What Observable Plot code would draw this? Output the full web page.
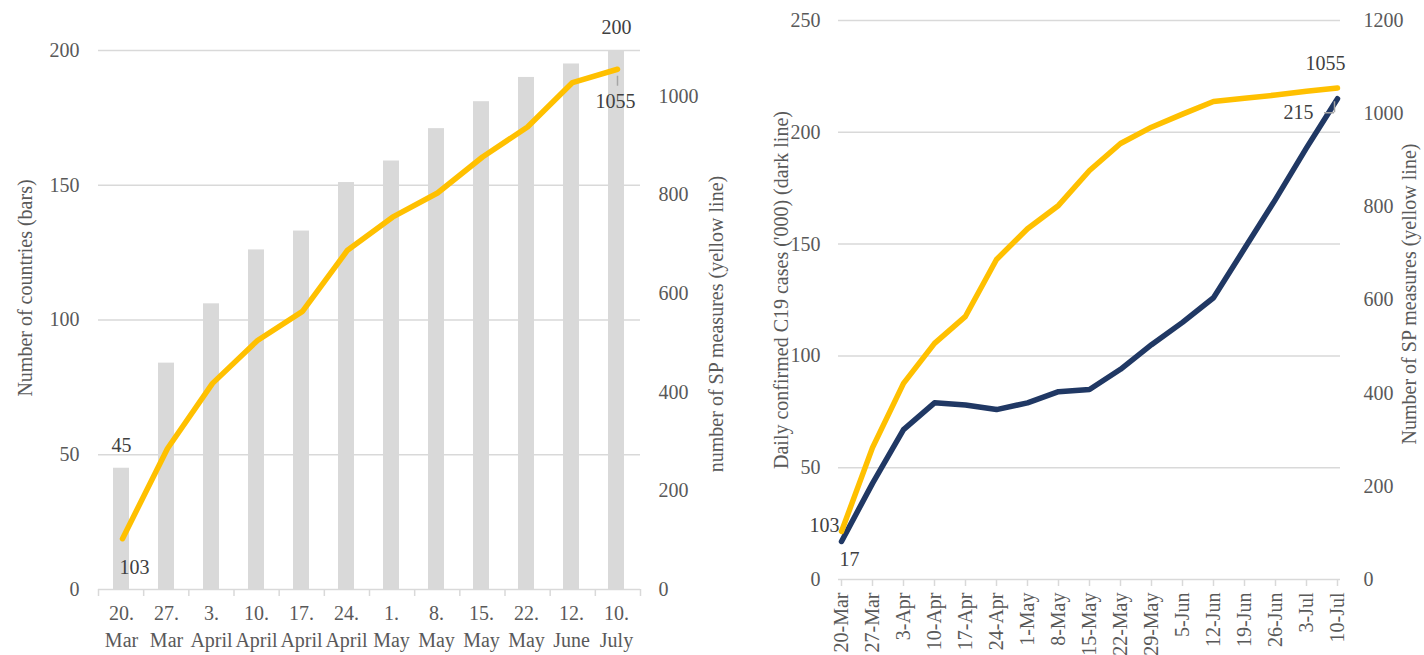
<!DOCTYPE html>
<html><head><meta charset="utf-8">
<script src="https://cdn.jsdelivr.net/npm/d3@7"></script>
<script src="https://cdn.jsdelivr.net/npm/@observablehq/plot@0.6"></script>
<style>
body{margin:0;background:#fff}
#wrap{position:relative;width:1424px;height:655px;overflow:hidden;background:#fff}
#wrap svg{position:absolute;top:0;overflow:visible}
#wrap svg text{font-family:"Liberation Serif","Times New Roman",serif}
</style></head><body><div id="wrap"></div>
<script>
// ---- Left panel data ----
const weeksL = ["20.\nMar","27.\nMar","3.\nApril","10.\nApril","17.\nApril","24.\nApril","1.\nMay","8.\nMay","15.\nMay","22.\nMay","12.\nJune","10.\nJuly"];
const countries = [45,84,106,126,133,151,159,171,181,190,195,200];
const spLeft = [103,286,418,505,564,688,755,804,877,938,1028,1055];
const countryTicks = [0,50,100,150,200];
const spTicksL = [0,200,400,600,800,1000];
const boundsL = [0,1,2,3,4,5,6,7,8,9,10,11,12];
// ---- Right panel data ----
const datesR = ["20-Mar","27-Mar","3-Apr","10-Apr","17-Apr","24-Apr","1-May","8-May","15-May","22-May","29-May","5-Jun","12-Jun","19-Jun","26-Jun","3-Jul","10-Jul"];
const cases = [17,43,67,79,78,76,79,84,85,94,105,115,126,148,170,193,215];
const spRight = [103,283,421,507,565,687,753,803,878,936,971,999,1026,1033,1040,1048,1055];
const casesTicks = [0,50,100,150,200,250];
const spTicksR = [0,200,400,600,800,1000,1200];

const leftData = weeksL.map((w,i)=>({week:w, countries:countries[i], sp:spLeft[i]}));
const rightData = datesR.map((d,i)=>({date:d, cases:cases[i], sp:spRight[i]}));

const FONT = '"Liberation Serif","Times New Roman",serif';
const GRID = "#d9d9d9", TXT = "#595959", LBL = "#404040", YEL = "#FFC000", DARK = "#203864", LEAD = "#a6a6a6";
const FS = 20;
const style = {fontFamily: FONT, fontSize: FS + "px", color: TXT, background: "transparent", overflow: "visible"};
const T = {fontFamily: FONT, fontSize: FS};
const fmt = d => String(d);
const wrap = document.getElementById("wrap");
function add(svg, left){ svg.style.left = left + "px"; wrap.appendChild(svg); }

const L = {width: 740, height: 655, marginLeft: 98, marginRight: 100, marginTop: 50, marginBottom: 66, style};
const lastL = leftData[leftData.length-1];

// Left: bars layer
add(Plot.plot({...L,
  x: {type: "band", domain: weeksL, paddingInner: 0.64, paddingOuter: 0.32},
  y: {domain: [0, 200]},
  marks: [
    Plot.gridY(countryTicks, {stroke: GRID, strokeOpacity: 1, strokeWidth: 1.5}),
    Plot.barY(leftData, {x: "week", y: "countries", fill: GRID}),
    Plot.axisY(countryTicks, {...T, tickSize: 0, tickPadding: 19, tickFormat: fmt, label: null}),
    Plot.axisX({...T, tickSize: 0, tickPadding: 11, lineHeight: 1.35, label: null}),
    Plot.text(["Number of countries (bars)"], {...T, frameAnchor: "left", textAnchor: "middle", rotate: -90, dx: -73, dy: -32, fill: TXT}),
    Plot.text([leftData[0]], {...T, x: "week", y: "countries", text: d => String(d.countries), dy: -23, fill: LBL}),
    Plot.text([lastL], {...T, x: "week", y: "countries", text: d => String(d.countries), dy: -23, fill: LBL})
  ]
}), 0);

// Left: category boundary tick marks
add(Plot.plot({...L,
  x: {domain: [0, 12]},
  marks: [
    Plot.axisX(boundsL, {tickSize: 7, stroke: GRID, strokeWidth: 1.5, tickFormat: () => "", label: null})
  ]
}), 0);

// Left: yellow line layer (secondary axis)
add(Plot.plot({...L,
  x: {type: "point", domain: weeksL, padding: 0.5, axis: null},
  y: {domain: [0, 1093]},
  marks: [
    Plot.line(leftData, {x: "week", y: "sp", stroke: YEL, strokeWidth: 5.5, strokeLinejoin: "round", strokeLinecap: "round"}),
    Plot.ruleX([lastL], {x: "week", y1: "sp", y2: "sp", insetTop: 7, insetBottom: -17, stroke: LEAD, strokeWidth: 1.5}),
    Plot.axisY(spTicksL, {...T, anchor: "right", tickSize: 0, tickPadding: 18, tickFormat: fmt, label: null}),
    Plot.text(["number of SP measures (yellow line)"], {...T, frameAnchor: "right", textAnchor: "middle", rotate: -90, dx: 76, dy: 4, fill: TXT}),
    Plot.text([leftData[0]], {...T, x: "week", y: "sp", text: d => String(d.sp), dx: 12, dy: 29, fill: LBL}),
    Plot.text([lastL], {...T, x: "week", y: "sp", text: d => String(d.sp), dx: -2, dy: 32, fill: LBL})
  ]
}), 0);

const R = {width: 712, height: 655, marginLeft: 126, marginRight: 84, marginTop: 20, marginBottom: 76, style};
const lastR = rightData[rightData.length-1];

// Right: dark line + primary axis
add(Plot.plot({...R,
  x: {type: "point", domain: datesR, padding: 0},
  y: {domain: [0, 250]},
  marks: [
    Plot.gridY(casesTicks, {stroke: GRID, strokeOpacity: 1, strokeWidth: 1.5}),
    Plot.axisX({tickSize: 7, stroke: GRID, strokeWidth: 1.5, tickFormat: () => "", label: null}),
    Plot.axisX({...T, tickSize: 0, tickPadding: 13, tickRotate: -90, label: null}),
    Plot.axisY(casesTicks, {...T, tickSize: 0, tickPadding: 18, tickFormat: fmt, label: null}),
    Plot.line(rightData, {x: "date", y: "cases", stroke: DARK, strokeWidth: 5.5, strokeLinejoin: "round", strokeLinecap: "round"}),
    Plot.ruleY([lastR], {x1: "date", x2: "date", y: "cases", insetLeft: -13, insetRight: 3, dy: 14, stroke: LEAD, strokeWidth: 1.5}),
    Plot.ruleX([lastR], {x: "date", y1: "cases", y2: "cases", insetTop: 3, insetBottom: -14, dx: -3, stroke: LEAD, strokeWidth: 1.5}),
    Plot.text(["Daily confirmed C19 cases ('000) (dark line)"], {...T, frameAnchor: "left", textAnchor: "middle", rotate: -90, dx: -57, dy: -10, fill: TXT}),
    Plot.text([rightData[0]], {...T, x: "date", y: "cases", text: d => String(d.cases), dx: 8, dy: 18, fill: LBL}),
    Plot.text([lastR], {...T, x: "date", y: "cases", text: d => String(d.cases), textAnchor: "end", dx: -24, dy: 14, fill: LBL})
  ]
}), 712);

// Right: yellow line + secondary axis
add(Plot.plot({...R,
  x: {type: "point", domain: datesR, padding: 0, axis: null},
  y: {domain: [0, 1200]},
  marks: [
    Plot.line(rightData, {x: "date", y: "sp", stroke: YEL, strokeWidth: 5.5, strokeLinejoin: "round", strokeLinecap: "round"}),
    Plot.axisY(spTicksR, {...T, anchor: "right", tickSize: 0, tickPadding: 23, tickFormat: fmt, label: null}),
    Plot.text(["Number of SP measures (yellow line)"], {...T, frameAnchor: "right", textAnchor: "middle", rotate: -90, dx: 69, dy: -6, fill: TXT}),
    Plot.text([rightData[0]], {...T, x: "date", y: "sp", text: d => String(d.sp), textAnchor: "end", dx: -2, dy: -6, fill: LBL}),
    Plot.text([lastR], {...T, x: "date", y: "sp", text: d => String(d.sp), dx: -12, dy: -24, fill: LBL})
  ]
}), 712);
</script></body></html>
